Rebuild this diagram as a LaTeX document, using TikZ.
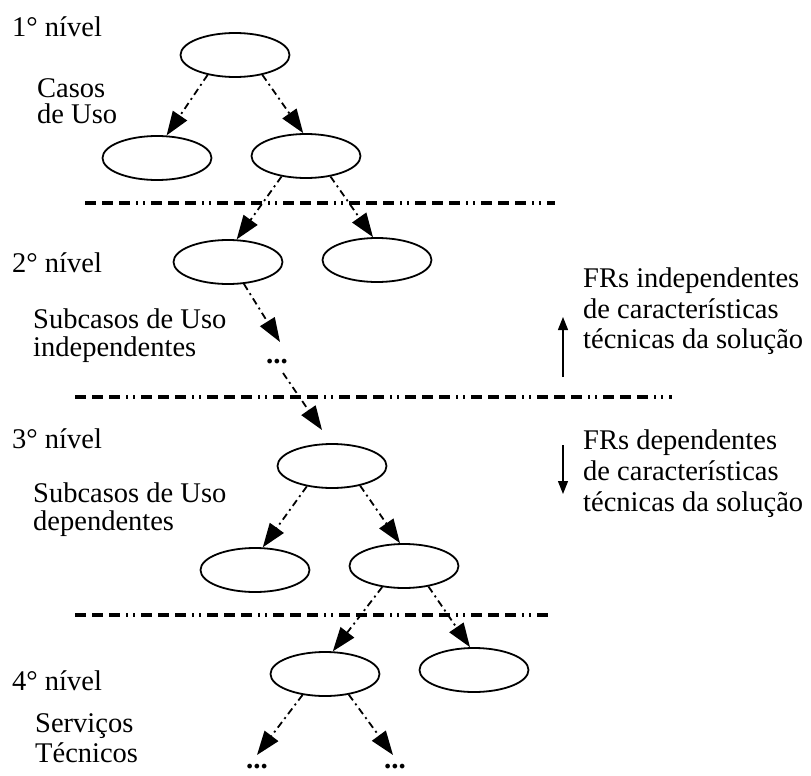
\documentclass[tikz,border=0pt]{standalone}
\usepackage{fontspec}
\setmainfont{Liberation Serif}
\usetikzlibrary{shapes.geometric,arrows.meta}
\begin{document}
\begin{tikzpicture}[x=1pt,y=-1pt,
  uc/.style={draw, ellipse, line width=1.8pt, inner sep=0pt, minimum width=109pt, minimum height=44pt},
  lbl/.style={anchor=base west, inner sep=0pt, font=\fontsize{28.5}{30}\selectfont},
  dotsnode/.style={inner sep=0pt, font=\fontsize{29}{30}\selectfont\bfseries},
  conn/.style={line width=1.8pt, dash pattern=on 7pt off 4pt on 2pt off 4pt,
    -{Triangle[length=24pt,width=17pt]}},
  sep/.style={line width=3.8pt, dash pattern=on 11pt off 6pt on 11pt off 6pt on 11pt off 6pt on 2pt off 5pt on 2pt off 6pt},
  side/.style={line width=1.2pt, -{Triangle[length=13pt,width=10pt]}}
]
\useasboundingbox (0,0) rectangle (811,776);

% separators
\coordinate (s1a) at (85,203);  \coordinate (s1b) at (555,203);
\coordinate (s2a) at (75,397);  \coordinate (s2b) at (672,397);
\coordinate (s3a) at (75,615);  \coordinate (s3b) at (550,615);
\draw[sep] (s1a) -- (s1b);
\draw[sep] (s2a) -- (s2b);
\draw[sep] (s3a) -- (s3b);

% ellipses
\node[uc] (t1)  at (235,55) {};
\node[uc] (l1a) at (157,158) {};
\node[uc] (l1b) at (306,156) {};
\node[uc] (l2a) at (228,262) {};
\node[uc] (l2b) at (377,260) {};
\node[uc] (l3t) at (332,466) {};
\node[uc] (l3a) at (255,570) {};
\node[uc] (l3b) at (404,566) {};
\node[uc] (l4a) at (325,674) {};
\node[uc] (l4b) at (474,670) {};

% dots
\node[dotsnode] (d1) at (277,362) {...};
\node[dotsnode] (d2) at (257,767) {...};
\node[dotsnode] (d3) at (395,767) {...};

% connectors
\draw[conn] (t1.216) -- (l1a.67);
\draw[conn] (t1.324) -- (l1b.97);
\draw[conn] (l1b.220) -- (l2a.69);
\draw[conn] (l1b.320) -- (l2b.100);
\draw[conn] (l2a.306) -- ([shift={(3,-20)}]d1.center);
\draw[conn] ([shift={(6,11)}]d1.center) -- ([shift={(-10,-36)}]l3t.center);
\draw[conn] (l3t.219) -- (l3a.71);
\draw[conn] (l3t.325) -- (l3b.100);
\draw[conn] (l3b.224) -- (l4a.71);
\draw[conn] (l3b.320) -- (l4b.100);
\draw[conn] (l4a.223) -- ([shift={(0,-12)}]d2.center);
\draw[conn] (l4a.319) -- ([shift={(-2,-12)}]d3.center);

% left labels
\node[lbl] (n1) at (12,37) {1° nível};
\node[lbl] (c1) at (37,97) {Casos};
\node[lbl] (c2) at (37,123) {de Uso};
\node[lbl] (n2) at (12,272) {2° nível};
\node[lbl] (i1) at (33,328) {Subcasos de Uso};
\node[lbl] (i2) at (33,356) {independentes};
\node[lbl] (n3) at (12,448) {3° nível};
\node[lbl] (e1) at (33,502) {Subcasos de Uso};
\node[lbl] (e2) at (33,530) {dependentes};
\node[lbl] (n4) at (12,690) {4° nível};
\node[lbl] (v1) at (35,732) {Serviços};
\node[lbl] (v2) at (35,762) {Técnicos};

% right labels
\node[lbl] (r1) at (583,287) {FRs independentes};
\node[lbl] (r2) at (583,318) {de características};
\node[lbl] (r3) at (583,348) {técnicas da solução};
\node[lbl] (q1) at (583,449) {FRs dependentes};
\node[lbl] (q2) at (583,480) {de características};
\node[lbl] (q3) at (583,511) {técnicas da solução};

% side arrows
\coordinate (upS) at (563,377); \coordinate (upE) at (563,317);
\coordinate (dnS) at (563,445); \coordinate (dnE) at (563,494);
\draw[side] (upS) -- (upE);
\draw[side] (dnS) -- (dnE);
\end{tikzpicture}
\end{document}
